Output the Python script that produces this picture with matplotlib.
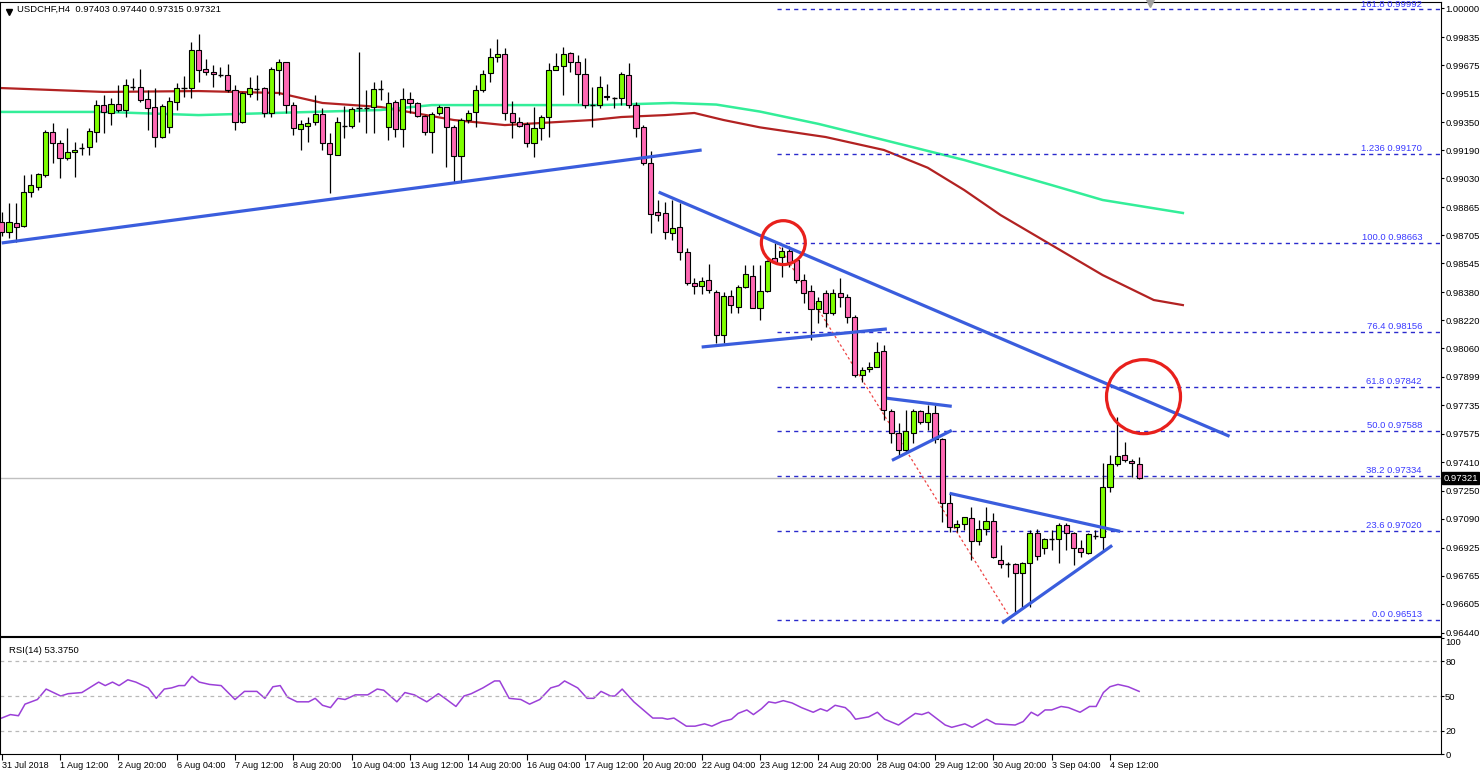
import matplotlib
matplotlib.use("Agg")
import matplotlib.pyplot as plt
import numpy as np

# OHLC of the H4 candles
opens = [
    0.98781, 0.98724, 0.98775, 0.98758, 0.98952, 0.98980, 0.99048, 0.99294, 0.99231, 0.99145,
    0.99180, 0.99202, 0.99208, 0.99294, 0.99447, 0.99402, 0.99453, 0.99419, 0.99550, 0.99550,
    0.99482, 0.99436, 0.99265, 0.99322, 0.99465, 0.99544, 0.99544, 0.99761, 0.99653, 0.99636,
    0.99618, 0.99618, 0.99533, 0.99351, 0.99510, 0.99539, 0.99544, 0.99402, 0.99647, 0.99693,
    0.99447, 0.99311, 0.99328, 0.99351, 0.99396, 0.99231, 0.99162, 0.99328, 0.99328, 0.99430,
    0.99430, 0.99436, 0.99539, 0.99322, 0.99465, 0.99311, 0.99482, 0.99459, 0.99385, 0.99294,
    0.99402, 0.99436, 0.99322, 0.99157, 0.99362, 0.99408, 0.99533, 0.99630, 0.99721, 0.99738,
    0.99402, 0.99351, 0.99339, 0.99231, 0.99316, 0.99379, 0.99647, 0.99670, 0.99744, 0.99693,
    0.99624, 0.99447, 0.99447, 0.99499, 0.99487, 0.99487, 0.99618, 0.99447, 0.99322, 0.99117,
    0.98838, 0.98832, 0.98718, 0.98752, 0.98610, 0.98433, 0.98416, 0.98450, 0.98382, 0.98136,
    0.98359, 0.98296, 0.98410, 0.98473, 0.98290, 0.98387, 0.98575, 0.98581, 0.98615, 0.98564,
    0.98450, 0.98387, 0.98285, 0.98376, 0.98262, 0.98376, 0.98353, 0.98239, 0.97908, 0.97943,
    0.97954, 0.98045, 0.97703, 0.97578, 0.97481, 0.97578, 0.97703, 0.97641, 0.97692, 0.97544,
    0.97179, 0.97042, 0.97059, 0.97093, 0.96962, 0.97031, 0.97076, 0.96854, 0.96831, 0.96831,
    0.96780, 0.96837, 0.97008, 0.96922, 0.96974, 0.96974, 0.97053, 0.97008, 0.96922, 0.96894,
    0.96991, 0.96985, 0.97270, 0.97401, 0.97452, 0.97418, 0.97403,
]
closes = [
    0.98724, 0.98781, 0.98752, 0.98952, 0.98991, 0.99054, 0.99294, 0.99231, 0.99145, 0.99180,
    0.99191, 0.99202, 0.99299, 0.99447, 0.99408, 0.99453, 0.99419, 0.99561, 0.99550, 0.99476,
    0.99430, 0.99265, 0.99442, 0.99470, 0.99544, 0.99544, 0.99761, 0.99647, 0.99636, 0.99624,
    0.99618, 0.99533, 0.99351, 0.99516, 0.99544, 0.99539, 0.99402, 0.99653, 0.99693, 0.99447,
    0.99316, 0.99339, 0.99345, 0.99396, 0.99231, 0.99168, 0.99351, 0.99328, 0.99425, 0.99430,
    0.99430, 0.99539, 0.99539, 0.99459, 0.99311, 0.99482, 0.99459, 0.99385, 0.99294, 0.99396,
    0.99436, 0.99322, 0.99157, 0.99362, 0.99402, 0.99533, 0.99624, 0.99721, 0.99738, 0.99402,
    0.99351, 0.99328, 0.99231, 0.99316, 0.99379, 0.99647, 0.99670, 0.99738, 0.99693, 0.99624,
    0.99447, 0.99447, 0.99550, 0.99493, 0.99487, 0.99624, 0.99447, 0.99316, 0.99117, 0.98826,
    0.98820, 0.98724, 0.98746, 0.98610, 0.98433, 0.98416, 0.98444, 0.98393, 0.98136, 0.98359,
    0.98307, 0.98410, 0.98484, 0.98290, 0.98387, 0.98558, 0.98553, 0.98615, 0.98553, 0.98450,
    0.98376, 0.98285, 0.98330, 0.98262, 0.98376, 0.98353, 0.98239, 0.97908, 0.97937, 0.97954,
    0.98040, 0.97709, 0.97578, 0.97481, 0.97589, 0.97703, 0.97641, 0.97692, 0.97544, 0.97179,
    0.97042, 0.97059, 0.97099, 0.96962, 0.97031, 0.97076, 0.96871, 0.96831, 0.96831, 0.96780,
    0.96837, 0.97008, 0.96877, 0.96974, 0.96974, 0.97053, 0.97008, 0.96922, 0.96900, 0.97002,
    0.96991, 0.97270, 0.97401, 0.97447, 0.97424, 0.97407, 0.97321,
]
highs = [
    0.98838, 0.98889, 0.98889, 0.99048, 0.99054, 0.99060, 0.99305, 0.99345, 0.99248, 0.99316,
    0.99237, 0.99231, 0.99316, 0.99476, 0.99504, 0.99487, 0.99561, 0.99596, 0.99601, 0.99653,
    0.99533, 0.99544, 0.99453, 0.99493, 0.99573, 0.99613, 0.99807, 0.99852, 0.99710, 0.99675,
    0.99664, 0.99681, 0.99561, 0.99522, 0.99607, 0.99618, 0.99550, 0.99664, 0.99710, 0.99693,
    0.99465, 0.99362, 0.99379, 0.99504, 0.99430, 0.99288, 0.99379, 0.99442, 0.99436, 0.99750,
    0.99533, 0.99579, 0.99590, 0.99522, 0.99476, 0.99544, 0.99522, 0.99465, 0.99390, 0.99408,
    0.99447, 0.99436, 0.99333, 0.99373, 0.99419, 0.99561, 0.99647, 0.99772, 0.99824, 0.99772,
    0.99470, 0.99379, 0.99351, 0.99436, 0.99390, 0.99687, 0.99744, 0.99778, 0.99750, 0.99732,
    0.99715, 0.99550, 0.99613, 0.99567, 0.99493, 0.99636, 0.99687, 0.99465, 0.99333, 0.99185,
    0.98906, 0.98895, 0.98906, 0.98889, 0.98632, 0.98461, 0.98467, 0.98541, 0.98393, 0.98382,
    0.98393, 0.98421, 0.98535, 0.98535, 0.98535, 0.98564, 0.98661, 0.98638, 0.98644, 0.98564,
    0.98484, 0.98421, 0.98353, 0.98393, 0.98399, 0.98461, 0.98370, 0.98250, 0.97954, 0.97983,
    0.98097, 0.98079, 0.97715, 0.97635, 0.97709, 0.97715, 0.97709, 0.97737, 0.97737, 0.97549,
    0.97236, 0.97082, 0.97099, 0.97156, 0.97082, 0.97156, 0.97122, 0.96939, 0.96843, 0.96837,
    0.96843, 0.97025, 0.97031, 0.96979, 0.97025, 0.97065, 0.97065, 0.97014, 0.96968, 0.97008,
    0.97025, 0.97407, 0.97452, 0.97669, 0.97527, 0.97430, 0.97440,
]
lows = [
    0.98701, 0.98689, 0.98667, 0.98752, 0.98923, 0.98963, 0.99037, 0.99117, 0.99031, 0.99134,
    0.99037, 0.99162, 0.99162, 0.99237, 0.99288, 0.99333, 0.99408, 0.99379, 0.99533, 0.99465,
    0.99305, 0.99208, 0.99259, 0.99288, 0.99419, 0.99493, 0.99487, 0.99579, 0.99618, 0.99550,
    0.99607, 0.99522, 0.99305, 0.99345, 0.99493, 0.99476, 0.99379, 0.99379, 0.99504, 0.99402,
    0.99276, 0.99191, 0.99237, 0.99333, 0.99191, 0.98946, 0.99162, 0.99259, 0.99316, 0.99351,
    0.99288, 0.99288, 0.99476, 0.99248, 0.99265, 0.99208, 0.99402, 0.99379, 0.99276, 0.99174,
    0.99390, 0.99094, 0.99009, 0.99009, 0.99345, 0.99322, 0.99522, 0.99579, 0.99693, 0.99362,
    0.99259, 0.99322, 0.99208, 0.99151, 0.99248, 0.99265, 0.99647, 0.99504, 0.99636, 0.99459,
    0.99430, 0.99322, 0.99430, 0.99476, 0.99430, 0.99447, 0.99430, 0.99265, 0.99105, 0.98718,
    0.98786, 0.98684, 0.98678, 0.98564, 0.98421, 0.98370, 0.98370, 0.98376, 0.98091, 0.98091,
    0.98262, 0.98262, 0.98404, 0.98290, 0.98222, 0.98382, 0.98553, 0.98467, 0.98524, 0.98433,
    0.98319, 0.98108, 0.98205, 0.98182, 0.98250, 0.98296, 0.98205, 0.97897, 0.97869, 0.97926,
    0.97954, 0.97652, 0.97521, 0.97447, 0.97470, 0.97521, 0.97629, 0.97595, 0.97521, 0.97071,
    0.97014, 0.97014, 0.97025, 0.96854, 0.96939, 0.96996, 0.96865, 0.96808, 0.96757, 0.96552,
    0.96586, 0.96586, 0.96854, 0.96888, 0.96911, 0.96837, 0.96911, 0.96825, 0.96871, 0.96888,
    0.96974, 0.96911, 0.97242, 0.97390, 0.97413, 0.97327, 0.97315,
]

# moving averages, read at a few candle positions
ma_red_x = [0, 14, 27, 38, 44, 52, 62, 69, 81, 85, 91, 95, 99, 104, 113, 121, 127, 132, 137, 144, 151, 158, 162]
ma_red_v = [0.99544, 0.99522, 0.99527, 0.99516, 0.99459, 0.99436, 0.99362, 0.99333, 0.99362, 0.99379,
            0.99390, 0.99402, 0.99362, 0.99320, 0.99265, 0.99191, 0.99090, 0.98963, 0.98820, 0.98649,
            0.98478, 0.98336, 0.98307]
ma_green_x = [0, 14, 27, 52, 59, 82, 92, 98, 104, 112, 121, 132, 144, 151, 162]
ma_green_v = [0.99408, 0.99408, 0.99390, 0.99419, 0.99447, 0.99447, 0.99459, 0.99450, 0.99410, 0.99340,
              0.99248, 0.99134, 0.98991, 0.98906, 0.98832]

# RSI(14)
rsi_x = [0, 1.2, 2.3, 3.2, 4.9, 6.1, 8.1, 9.1, 11, 13.3, 14.2, 15.2, 16.1, 17.3, 18.4, 20.1, 21.2, 22.3,
         23.3, 24.3, 25.1, 26.1, 27.1, 28.5, 30.1, 32, 33.3, 35, 36.1, 37.2, 38.2, 39.2, 40.5, 42.1, 43,
         44, 45.1, 46.1, 47.1, 48.5, 50.2, 51.5, 52.4, 54.2, 55.3, 56.6, 58.3, 59.9, 60.8, 62.3, 63.4,
         64.4, 66, 67.6, 68.3, 69.6, 71.2, 72.4, 73.8, 75.3, 76.4, 77.2, 79, 80.3, 81.2, 82.2, 83.5,
         84.1, 85.1, 86.7, 89.3, 90.6, 91.3, 92.2, 93.9, 95.1, 96.4, 97.4, 98.8, 100.1, 101.0, 102.2,
         103.1, 104.2, 105.2, 106.1, 107.2, 108.4, 109.7, 111.3, 112.3, 113.2, 114.3, 115.7, 116.4,
         117.1, 118.9, 120.1, 121.1, 123.0, 125.3, 126.2, 127.1, 129.4, 130.3, 132.1, 133.1, 135.1,
         136.3, 139.0, 140.1, 141.2, 142.1, 143.1, 144.0, 145.3, 146.3, 147.9, 149.2, 150.1, 151.1,
         152.0, 153.1, 154.5, 156.0]
rsi_v = [31, 34, 33, 43, 47, 56, 50, 52, 53, 62, 59, 62, 59, 64, 62, 57, 48, 56, 57, 59, 59, 67, 62,
         60, 59, 47, 54, 54, 48, 58, 59, 49, 45, 45, 48, 42, 40, 48, 47, 51, 51, 56, 55, 45, 53, 51,
         45, 52, 48, 41, 50, 52, 57, 63, 63, 48, 47, 43, 47, 57, 59, 63, 57, 48, 48, 54, 50, 50, 56,
         45, 31, 31, 30, 31, 24, 24, 26, 24, 28, 30, 35, 38, 34, 39, 45, 44, 46, 44, 40, 36, 39, 37,
         42, 40, 36, 30, 32, 36, 30, 25, 35, 34, 36, 25, 23, 26, 23, 30, 26, 25, 28, 36, 33, 38, 38,
         41, 40, 36, 41, 41, 53, 58, 60, 58, 54]

# trend lines (candle index, price)
trend_lines = [
    ((0, 0.98661), (96, 0.99191)),
    ((90.1, 0.98951), (168.4, 0.97559)),
    ((96, 0.98068), (121.4, 0.98171)),
    ((121.4, 0.97776), (130.3, 0.97730)),
    ((122.1, 0.97422), (130.3, 0.97593)),
    ((130, 0.97234), (153.4, 0.97017)),
    ((137.2, 0.96494), (152.3, 0.96937)),
]
fib_names = ["161.8", "1.236", "100.0", "76.4", "61.8", "50.0", "38.2", "23.6", "0.0"]
fib_prices = [0.99992, 0.99170, 0.98663, 0.98156, 0.97842, 0.97588, 0.97334, 0.97020, 0.96513]
fib_start = 106.3

price_ticks = [1.00000, 0.99835, 0.99675, 0.99515, 0.99350, 0.99190, 0.99030, 0.98865, 0.98705,
               0.98545, 0.98380, 0.98220, 0.98060, 0.97899, 0.97735, 0.97575, 0.97410, 0.97250,
               0.97090, 0.96925, 0.96765, 0.96605, 0.96440]
date_labels = ["31 Jul 2018", "1 Aug 12:00", "2 Aug 20:00", "6 Aug 04:00", "7 Aug 12:00",
               "8 Aug 20:00", "10 Aug 04:00", "13 Aug 12:00", "14 Aug 20:00", "16 Aug 04:00",
               "17 Aug 12:00", "20 Aug 20:00", "22 Aug 04:00", "23 Aug 12:00", "24 Aug 20:00",
               "28 Aug 04:00", "29 Aug 12:00", "30 Aug 20:00", "3 Sep 04:00", "4 Sep 12:00"]

plt.rcParams['font.family'] = ['Liberation Sans', 'DejaVu Sans']
fs = 6.8
fig = plt.figure(figsize=(14.8, 7.72), dpi=100)
ax = fig.add_axes([0, 1 - 636 / 772, 1441 / 1480, 634 / 772])
rx = fig.add_axes([0, 1 - 754 / 772, 1441 / 1480, 117 / 772])

n = len(closes)
idx = np.arange(n)
o = np.array(opens); c = np.array(closes); h = np.array(highs); l = np.array(lows)

xlim = (-0.23, 197.4)

# MAs
ax.plot(ma_red_x, ma_red_v, color="#b22222", lw=1.6, zorder=1)
ax.plot(ma_green_x, ma_green_v, color="#33ee99", lw=1.8, zorder=1)

# current price line
ax.axhline(closes[-1], color="#c0c0c0", lw=1, zorder=0)

# candles
ax.vlines(idx, l, h, color="black", lw=0.9, zorder=2)
up = c > o + 1e-6
dn = c < o - 1e-6
flat = ~(up | dn)
ax.bar(idx[up], (c - o)[up], bottom=o[up], width=0.7, color="#7fff00", edgecolor="black", lw=0.8, zorder=3)
ax.bar(idx[dn], (c - o)[dn], bottom=o[dn], width=0.7, color="#ff69b4", edgecolor="black", lw=0.8, zorder=3)
ax.hlines(c[flat], idx[flat] - 0.35, idx[flat] + 0.35, color="black", lw=1, zorder=3)

# fib levels
for name, p in zip(fib_names, fib_prices):
    ax.plot([fib_start, xlim[1]], [p, p], color="#2a2acc", lw=1, dashes=(3, 3), zorder=1)
    ax.text(1422 / 1441, p + 0.00005, f"{name} {p:.5f}", transform=ax.get_yaxis_transform(),
            ha="right", va="bottom", fontsize=fs, color="#3a3aff")
ax.plot([fib_start, 138.5], [fib_prices[2], fib_prices[-1]], color="#ee4444", lw=0.9,
        dashes=(2, 2), zorder=1)

for (x0, y0), (x1, y1) in trend_lines:
    ax.plot([x0, x1], [y0, y1], color="#3a5ddd", lw=2.3, zorder=4, solid_capstyle="butt")

# circles
ax.scatter([107.2], [0.98663], s=1000, facecolors="none", edgecolors="#e8201c", lw=2.3, zorder=5)
ax.scatter([156.6], [0.97785], s=2840, facecolors="none", edgecolors="#e8201c", lw=2.3, zorder=5)

ax.plot([157.5], [1.0003], marker="v", color="#a0a0a0", ms=6, clip_on=False, zorder=6)

ax.set_xlim(*xlim)
ax.set_ylim(1.00046 - 636 * 0.000057, 1.00046 - 2 * 0.000057)
ax.yaxis.tick_right()
ax.set_yticks(price_ticks)
ax.set_yticklabels([f"{t:.5f}" for t in price_ticks], fontsize=fs)
ax.tick_params(axis="y", length=2, pad=1)
ax.set_xticks([])
ax.text(0.012, 0.995, "USDCHF,H4  0.97403 0.97440 0.97315 0.97321", transform=ax.transAxes,
        fontsize=fs, va="top", ha="left")
ax.plot([0.006], [0.984], marker="v", color="black", ms=4, transform=ax.transAxes)
ax.text(1.0015, closes[-1], f"{closes[-1]:.5f}", transform=ax.get_yaxis_transform(), fontsize=fs,
        color="white", va="center", ha="left", bbox=dict(boxstyle="square,pad=0.12", fc="black", ec="black"))
for s in ax.spines.values():
    s.set_color("black")

# RSI
rx.plot(rsi_x, rsi_v, color="#9b40d8", lw=1.1)
for lv in (20, 50, 80):
    rx.axhline(lv, color="#b8b8b8", lw=0.9, dashes=(3, 3))
rx.set_xlim(*xlim)
rx.set_ylim(0, 100.9)
rx.yaxis.tick_right()
rx.set_yticks([0, 20, 50, 80, 100])
rx.set_yticklabels(["0", "20", "50", "80", "100"], fontsize=fs)
rx.get_yticklabels()[-1].set_va("top")
rx.tick_params(axis="y", length=2, pad=1)
rx.set_xticks(np.arange(0, 8 * len(date_labels), 8))
rx.set_xticklabels(date_labels, fontsize=6.5, ha="left")
rx.tick_params(axis="x", length=4, pad=1, direction="out")
rx.text(0.006, 0.92, "RSI(14) 53.3750", transform=rx.transAxes, fontsize=fs, va="top")

fig.savefig("out.png", dpi=100)
